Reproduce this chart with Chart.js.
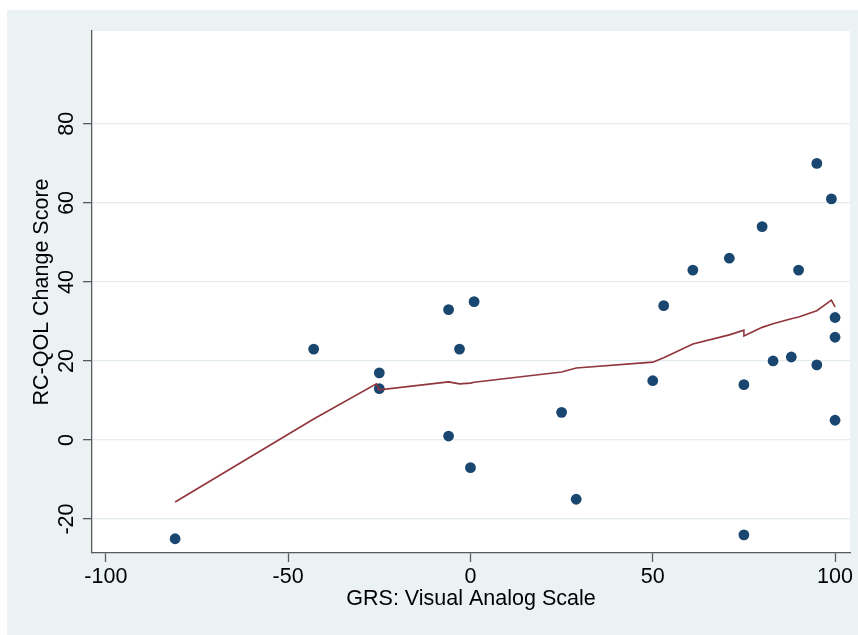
<!DOCTYPE html>
<html>
<head>
<meta charset="utf-8">
<script src="https://cdn.jsdelivr.net/npm/chart.js@4/dist/chart.umd.min.js"></script>
<style>
  html, body { margin: 0; padding: 0; background: #fff; }
  #wrap { width: 858px; height: 635px; }
</style>
</head>
<body>
<div id="wrap"><canvas id="grafico" width="858" height="635"></canvas></div>
<script>
// observed points (GRS VAS, RC-QOL change)
const grsX = [-81, -43, -25, -25, -6, -6, -3, 1, 0, 25, 29, 50, 53, 61, 71, 75, 75, 80, 83, 88, 90, 95, 95, 99, 100, 100, 100];
const qolY = [-25, 23, 17, 13, 33, 1, 23, 35, -7, 7, -15, 15, 34, 43, 46, 14, -24, 54, 20, 21, 43, 70, 19, 61, 31, 26, 5];

// lowess smooth as drawn
const lowX = [-81, -43, -25.8, -25, -6, -3, 0, 1, 25, 29, 50, 53, 61, 71, 75, 75, 80, 83, 88, 90, 95, 99, 100];
const lowY = [-15.7, 5.3, 14.2, 12.7, 14.7, 14.2, 14.4, 14.6, 17.2, 18.2, 19.7, 20.8, 24.3, 26.6, 27.8, 26.3, 28.5, 29.4, 30.7, 31.1, 32.7, 35.4, 33.7];

const xTicks = [-100, -50, 0, 50, 100];
const yTicks = [-20, 0, 20, 40, 60, 80];

const fondo = '#eaf2f3';
const grade = '#e3ecee';
const eixo = '#5a5a5a';
const fonte = { family: '"Liberation Sans", Arial, Helvetica, sans-serif', size: 21.5 };

const painel = {
    id: 'painel',
    beforeDraw(chart) {
        const { ctx, chartArea: a } = chart;
        ctx.save();
        ctx.fillStyle = '#ffffff';
        ctx.fillRect(0, 0, chart.width, chart.height);
        ctx.fillStyle = fondo;
        ctx.fillRect(7, 10, chart.width - 7, chart.height - 10);
        ctx.fillStyle = '#ffffff';
        ctx.fillRect(a.left, a.top, a.right - a.left, a.bottom - a.top);
        ctx.restore();
    }
};

const ctx = document.getElementById('grafico').getContext('2d');
new Chart(ctx, {
    type: 'scatter',
    data: {
        datasets: [{
            type: 'line',
            label: 'lowess',
            data: lowX.map((x, i) => ({ x, y: lowY[i] })),
            borderColor: '#90353b',
            borderWidth: 1.6,
            pointRadius: 0,
            tension: 0,
            fill: false
        }, {
            label: 'RC-QOL',
            data: grsX.map((x, i) => ({ x, y: qolY[i] })),
            backgroundColor: '#1a476f',
            borderWidth: 0,
            pointRadius: 5.4
        }]
    },
    options: {
        responsive: false,
        animation: false,
        devicePixelRatio: 1,
        layout: { padding: { top: 31, right: 8, left: 0, bottom: 0 } },
        plugins: { legend: { display: false }, tooltip: { enabled: false } },
        scales: {
            x: {
                type: 'linear',
                min: -103.8,
                max: 104.1,
                afterBuildTicks: s => { s.ticks = xTicks.map(v => ({ value: v })); },
                afterFit: s => { s.height = 82; s.paddingLeft = 0; s.paddingRight = 0; },
                grid: { drawOnChartArea: false, tickColor: eixo, tickLength: 9, tickWidth: 1.3 },
                border: { color: eixo, width: 1.3 },
                ticks: { color: '#000', font: fonte, padding: 2, maxRotation: 0 },
                title: {
                    display: true,
                    text: 'GRS: Visual Analog Scale',
                    color: '#000',
                    font: fonte,
                    padding: { top: 0, bottom: 23 }
                }
            },
            y: {
                type: 'linear',
                min: -28.6,
                max: 103.5,
                afterBuildTicks: s => { s.ticks = yTicks.map(v => ({ value: v })); },
                afterFit: s => { s.width = 92; s.paddingTop = 0; s.paddingBottom = 0; },
                grid: { color: grade, lineWidth: 1.3, tickColor: eixo, tickLength: 9, tickWidth: 1.3 },
                border: { color: eixo, width: 1.3 },
                ticks: { color: '#000', font: fonte, padding: 0, minRotation: 90, maxRotation: 90, crossAlign: 'center' },
                title: {
                    display: true,
                    text: 'RC-QOL Change Score',
                    color: '#000',
                    font: fonte,
                    padding: { top: 29, bottom: 0 }
                }
            }
        }
    },
    plugins: [painel]
});
</script>
</body>
</html>
